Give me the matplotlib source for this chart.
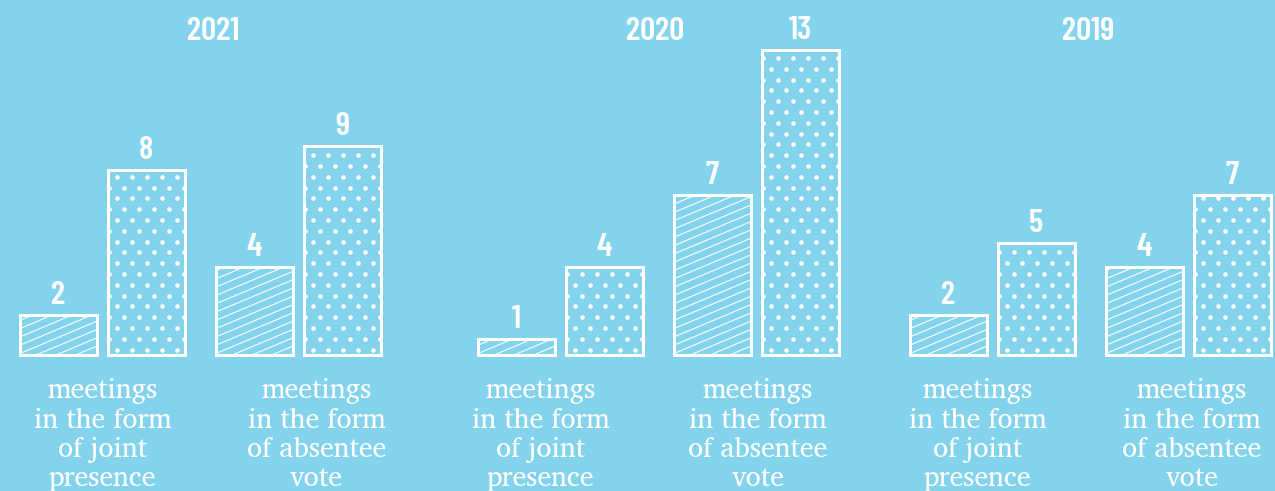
import numpy as np
import matplotlib
matplotlib.use("Agg")
import matplotlib.pyplot as plt
from matplotlib import font_manager as fm
from matplotlib.textpath import TextPath
from matplotlib.transforms import IdentityTransform
from matplotlib.collections import LineCollection

# ---- data -------------------------------------------------------------
years = ["2021", "2020", "2019"]
categories = [
    "meetings\nin the form\nof joint\npresence",
    "meetings\nin the form\nof absentee\nvote",
]
# per year: [joint presence, absentee vote]
hatched_values = [[2, 4], [1, 7], [2, 4]]
dotted_values = [[8, 9], [4, 13], [5, 7]]

# ---- layout / style ---------------------------------------------------
BG = "#83D3EC"
WHITE = "white"
W, H, DPI = 1275, 491, 100
BASE = 0.36                      # bar baseline in value units
group_left = [18, 476, 908]      # left edge of each year block (px)
bar_offsets = [0, 88, 196, 284]  # joint-hatched, joint-dotted, absentee-hatched, absentee-dotted
BAR_W = 77
year_dx = [13, -3, -1.5]
label_dx = [[0.5, 18.5], [-19.5, 2], [-14.5, 4]]
label_baselines = [398, 427.5, 457, 486.5]


def pick(candidates):
    names = {f.name for f in fm.fontManager.ttflist}
    for c in candidates:
        if c in names:
            return c
    return candidates[-1]


NUM_FONT = pick(["Barlow Condensed", "Roboto Condensed", "Archivo Narrow", "DejaVu Sans"])
SERIF_FONT = pick(["Charis SIL", "PT Serif", "Source Serif 4", "Noto Serif", "DejaVu Serif"])
NUM_WEIGHT = 600

fig = plt.figure(figsize=(W / DPI, H / DPI), dpi=DPI, facecolor=BG)
ax = fig.add_axes([0, 0, 1, 1])
ax.set_facecolor(BG)
ax.set_xlim(0, W)
ax.set_ylim(-5.30, 15.07)
ax.axis("off")
renderer = fig.canvas.get_renderer()


def size_for_width(sample, family, weight, target_px, probe=20):
    t = fig.text(0, 0, sample, fontsize=probe, family=family, fontweight=weight)
    w = t.get_window_extent(renderer).width
    t.remove()
    return probe * target_px / w


def size_for_glyph_height(sample, family, weight, target_px, probe=100):
    prop = fm.FontProperties(family=family, weight=weight)
    ext = TextPath((0, 0), sample, size=probe, prop=prop).get_extents()
    # TextPath size is in points-as-units; convert target pixels to points
    return probe * (target_px * 72 / DPI) / ext.height


NUM_SIZE = size_for_glyph_height("2021", NUM_FONT, NUM_WEIGHT, 24)
SERIF_SIZE = size_for_width("in the form", SERIF_FONT, "normal", 138)

lw = 3 * 72 / DPI


def px_y(img_y):
    """image row (from top) -> axes fraction"""
    return 1 - img_y / H


def add_hatch(bar):
    x0, y0 = ax.transData.transform((bar.get_x(), bar.get_y()))
    x1, y1 = ax.transData.transform((bar.get_x() + bar.get_width(),
                                     bar.get_y() + bar.get_height()))
    slope, step = 0.42, 8.3
    segs = []
    c = y0 - slope * (x1 - x0) - step
    while c < y1 + step:
        segs.append([(x0 - 5, c - 5 * slope), (x1 + 5, c + (x1 - x0 + 5) * slope)])
        c += step
    lc = LineCollection(segs, colors=WHITE, linewidths=1.1 * 72 / DPI,
                        transform=IdentityTransform())
    ax.add_collection(lc)
    lc.set_clip_path(bar)


def add_dots(bar):
    x0, y0 = ax.transData.transform((bar.get_x(), bar.get_y()))
    x1, y1 = ax.transData.transform((bar.get_x() + bar.get_width(),
                                     bar.get_y() + bar.get_height()))
    xs, ys = [], []
    row = 0
    y = y0 + 5
    while y < y1 + 2:
        x = x0 + 9 if row % 2 == 0 else x0 + 1.5
        while x < x1 + 3:
            xs.append(x)
            ys.append(y)
            x += 15
        y += 10.8
        row += 1
    ln, = ax.plot(xs, ys, linestyle="none", marker="o", markersize=4.6 * 72 / DPI,
                  markerfacecolor=WHITE, markeredgecolor="none",
                  transform=IdentityTransform())
    ln.set_clip_path(bar)


for g, year in enumerate(years):
    lefts = [group_left[g] + o for o in bar_offsets]
    centers = [l + 40 for l in lefts]
    for c in range(2):
        hv = hatched_values[g][c]
        dv = dotted_values[g][c]
        xh, xd = centers[2 * c], centers[2 * c + 1]
        bh = ax.bar(xh, hv - BASE, bottom=BASE, width=BAR_W, facecolor="none",
                    edgecolor=WHITE, linewidth=lw, zorder=3)[0]
        bd = ax.bar(xd, dv - BASE, bottom=BASE, width=BAR_W, facecolor="none",
                    edgecolor=WHITE, linewidth=lw, zorder=3)[0]
        add_hatch(bh)
        add_dots(bd)
        for x, v in ((xh, hv), (xd, dv)):
            ax.annotate(str(v), (x, v), xytext=(0, 11 * 72 / DPI),
                        textcoords="offset points", ha="center", va="baseline",
                        color=WHITE, fontsize=NUM_SIZE, fontweight=NUM_WEIGHT,
                        family=NUM_FONT)
        # category caption
        cx = (xh + xd) / 2 + label_dx[g][c]
        for line, by in zip(categories[c].split("\n"), label_baselines):
            ax.text(cx, px_y(by), line, transform=ax.get_xaxis_transform(),
                    ha="center", va="baseline", color=WHITE, fontsize=SERIF_SIZE,
                    family=SERIF_FONT)
    gx = (lefts[0] + lefts[3] + 80) / 2 + year_dx[g]
    ax.text(gx, px_y(40), year, transform=ax.get_xaxis_transform(),
            ha="center", va="baseline", color=WHITE, fontsize=NUM_SIZE,
            fontweight=NUM_WEIGHT, family=NUM_FONT)

fig.savefig("out.png", dpi=DPI, facecolor=BG)
